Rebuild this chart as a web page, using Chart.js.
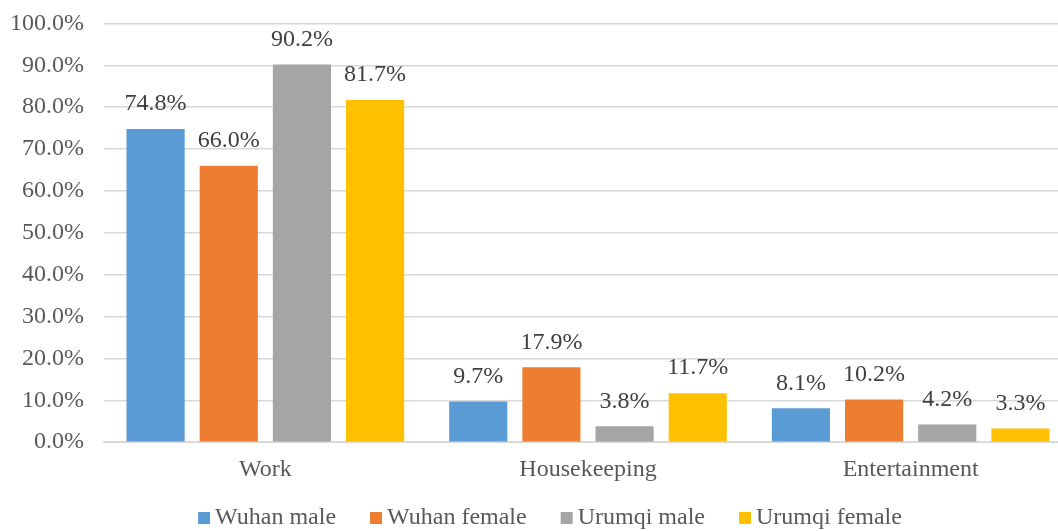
<!DOCTYPE html>
<html>
<head>
<meta charset="utf-8">
<script src="https://cdn.jsdelivr.net/npm/chart.js@4"></script>
<style>
  html, body { margin: 0; padding: 0; background: #fff; overflow: hidden; }
  #wrap { width: 1072px; height: 542px; position: relative; margin-top: -11px; }
</style>
</head>
<body>
<div id="wrap"><canvas id="timeChart"></canvas></div>
<script>
const categories = ["Work", "Housekeeping", "Entertainment"];
const wuhanMale = [74.8, 9.7, 8.1];
const wuhanFemale = [66.0, 17.9, 10.2];
const urumqiMale = [90.2, 3.8, 4.2];
const urumqiFemale = [81.7, 11.7, 3.3];
const seriesNames = ["Wuhan male", "Wuhan female", "Urumqi male", "Urumqi female"];
const seriesColors = ["#5b9bd5", "#ed7d31", "#a5a5a5", "#ffc000"];

const font = "'Liberation Serif', 'Times New Roman', serif";
const fontSize = 24;

// value labels above every bar
const barLabels = {
  id: "barLabels",
  afterDatasetsDraw(chart) {
    const ctx = chart.ctx;
    ctx.save();
    ctx.font = fontSize + "px " + font;
    ctx.fillStyle = "#404040";
    ctx.textAlign = "center";
    ctx.textBaseline = "middle";
    chart.data.datasets.forEach((ds, i) => {
      chart.getDatasetMeta(i).data.forEach((bar, j) => {
        ctx.fillText(ds.data[j].toFixed(1) + "%", bar.x, bar.y - 25);
      });
    });
    ctx.restore();
  },
};

// excel-like legend: small square, tight gap to the text
const bottomLegend = {
  id: "bottomLegend",
  afterDraw(chart) {
    const ctx = chart.ctx;
    ctx.save();
    ctx.font = fontSize + "px " + font;
    ctx.textBaseline = "middle";
    const box = 12, gap = 5, spacing = 34;
    const widths = chart.data.datasets.map((ds) => box + gap + ctx.measureText(ds.label).width);
    const total = widths.reduce((a, b) => a + b, 0) + spacing * (widths.length - 1);
    let x = 550 - total / 2;
    const y = 529;
    chart.data.datasets.forEach((ds, i) => {
      ctx.fillStyle = ds.backgroundColor;
      ctx.fillRect(x, y - box / 2, box, box);
      ctx.fillStyle = "#595959";
      ctx.fillText(ds.label, x + box + gap, y);
      x += widths[i] + spacing;
    });
    ctx.restore();
  },
};

const allSeries = [wuhanMale, wuhanFemale, urumqiMale, urumqiFemale];

let chart = new Chart(document.getElementById("timeChart").getContext("2d"), {
  type: "bar",
  data: {
    labels: categories,
    datasets: allSeries.map((vals, i) => ({
      label: seriesNames[i],
      data: vals,
      backgroundColor: seriesColors[i],
      categoryPercentage: 0.907,
      barPercentage: 0.795,
    })),
  },
  options: {
    responsive: true,
    maintainAspectRatio: false,
    animation: false,
    layout: { padding: { top: 0, left: 0, right: 0, bottom: 42 } },
    plugins: {
      tooltip: { enabled: false },
      legend: { display: false },
    },
    scales: {
      x: {
        grid: { display: false },
        border: { color: "#d9d9d9", width: 2 },
        ticks: { font: { family: font, size: fontSize }, color: "#595959", padding: 5 },
      },
      y: {
        min: 0,
        max: 100,
        afterFit: (scale) => { scale.width = 104; },
        ticks: {
          stepSize: 10,
          font: { family: font, size: fontSize },
          color: "#595959",
          padding: 20,
          callback: (v) => v.toFixed(1) + "%",
        },
        grid: { color: "#d9d9d9", drawTicks: false, lineWidth: 1.5 },
        border: { display: false },
      },
    },
  },
  plugins: [barLabels, bottomLegend],
});
</script>
</body>
</html>
